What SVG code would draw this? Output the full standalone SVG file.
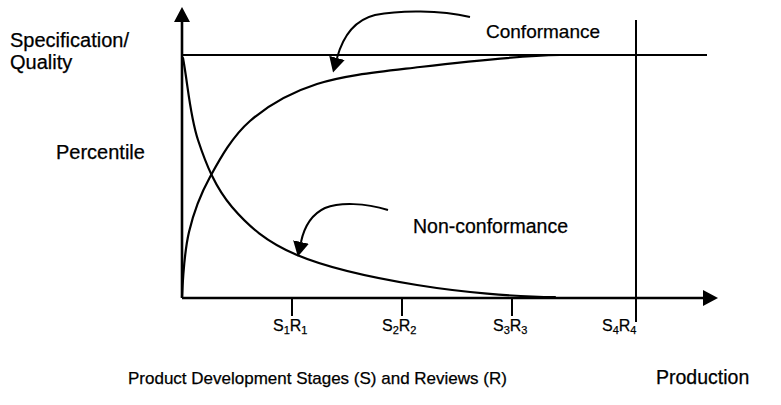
<svg xmlns="http://www.w3.org/2000/svg" width="781" height="405" viewBox="0 0 781 405">
  <style>
    text { font-family: "Liberation Sans", Arial, sans-serif; font-size: 20px; fill: #000; stroke: #000; stroke-width: 0.25; }
    .stage { font-size: 16px; }
    .sub { font-size: 11px; }
    .xlabel { font-size: 17px; }
    .axis { stroke: #000; stroke-width: 2.6; fill: none; }
    .line { stroke: #000; stroke-width: 2; fill: none; }
    .curve { stroke: #000; stroke-width: 2.2; fill: none; stroke-linecap: round; }
  </style>
  <defs>
    <marker id="head" viewBox="0 0 15 16" refX="0" refY="8" markerWidth="15" markerHeight="16" markerUnits="userSpaceOnUse" orient="auto">
      <path d="M0,0 L15,8 L0,16 z" fill="#000"/>
    </marker>
  </defs>
  <rect width="781" height="405" fill="#fff"/>

  <!-- axes, reference lines and stage ticks -->
  <g id="connectors">
    <path class="axis" d="M182,298 L182,22" marker-end="url(#head)"/>
    <path class="axis" d="M182,298 L703,298" marker-end="url(#head)"/>
    <path class="line" d="M182,55 L707,55"/>
    <path class="line" d="M636,20 L636,322"/>
    <path class="line" d="M292,298 V316 M402,298 V316 M512,298 V316"/>

    <!-- conformance curve -->
    <path class="curve" d="M182,297 C183,275 184.3,252 189,232 C193.7,212 199.8,195.5 210,177 C220.2,158.5 232.2,136.5 250,121 C267.8,105.5 288.7,93 317,84 C345.3,75 379.5,71.8 420,67 C460.5,62.2 515,56 560,55"/>
    <!-- non-conformance curve -->
    <path class="curve" d="M183,58 C188,85 189.8,115.2 198,140 C206.2,164.8 215.5,187.8 232,207 C248.5,226.2 266.2,242 297,255 C327.8,268 374,278 417,285 C460,292 515,297 555,297"/>

    <!-- pointer arrows -->
    <path class="line" d="M470,17 C440,10 400,10 375,15 C355,20 343,36 337,58" marker-end="url(#head)"/>
    <path class="line" d="M388,210 C365,203 340,202 325,208 C310,215 304,228 301,242" marker-end="url(#head)"/>
  </g>

  <g id="label-axis-y">
    <text x="10" y="47">Specification/</text>
    <text x="10" y="69">Quality</text>
    <text x="56" y="159">Percentile</text>
  </g>
  <g id="label-conformance"><text x="486" y="38" style="font-size:19px">Conformance</text></g>
  <g id="label-nonconformance"><text x="413" y="233" style="font-size:19.5px">Non-conformance</text></g>

  <g id="stage-1"><text class="stage" x="273" y="331">S<tspan class="sub" dy="3">1</tspan><tspan dy="-3">R</tspan><tspan class="sub" dy="3">1</tspan></text></g>
  <g id="stage-2"><text class="stage" x="382" y="331">S<tspan class="sub" dy="3">2</tspan><tspan dy="-3">R</tspan><tspan class="sub" dy="3">2</tspan></text></g>
  <g id="stage-3"><text class="stage" x="493" y="331">S<tspan class="sub" dy="3">3</tspan><tspan dy="-3">R</tspan><tspan class="sub" dy="3">3</tspan></text></g>
  <g id="stage-4"><text class="stage" x="602" y="331">S<tspan class="sub" dy="3">4</tspan><tspan dy="-3">R</tspan><tspan class="sub" dy="3">4</tspan></text></g>

  <g id="label-axis-x">
    <text class="xlabel" x="128" y="384">Product Development Stages (S) and Reviews (R)</text>
    <text x="656" y="384" style="font-size:19.5px">Production</text>
  </g>
</svg>
